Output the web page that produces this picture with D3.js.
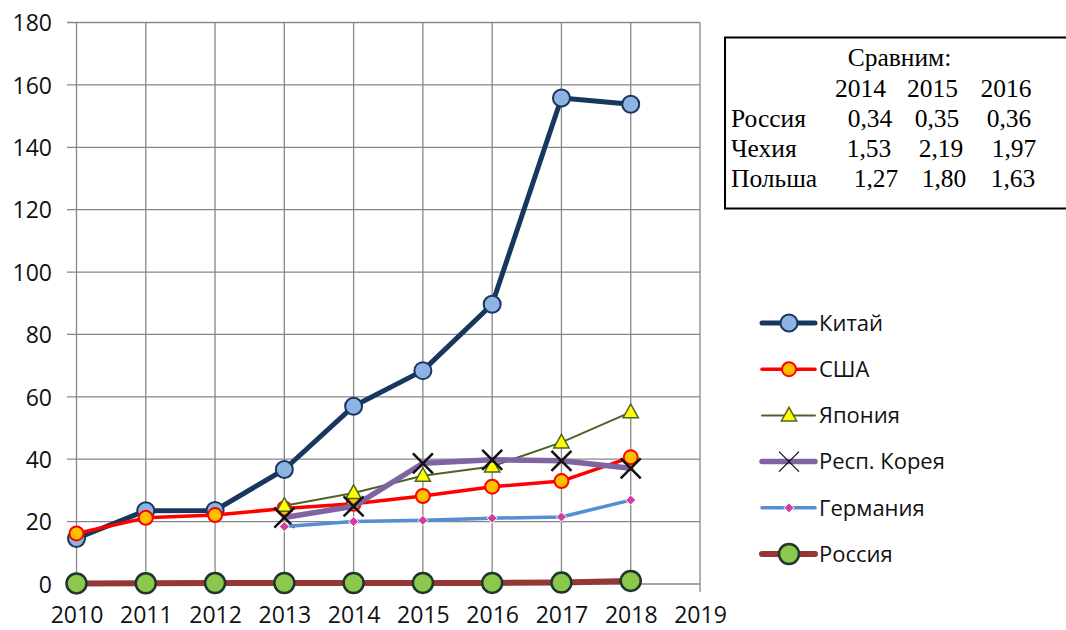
<!DOCTYPE html>
<html><head><meta charset="utf-8">
<script src="https://cdn.jsdelivr.net/npm/d3@7"></script>
<style>html,body{margin:0;padding:0;background:#fff;}svg{display:block;}</style>
</head><body>
<svg id="chart" width="1066" height="630"></svg>
<script>
const years = [2010, 2011, 2012, 2013, 2014, 2015, 2016, 2017, 2018];
const xTicks = [2010, 2011, 2012, 2013, 2014, 2015, 2016, 2017, 2018, 2019];
const yTicks = [0, 20, 40, 60, 80, 100, 120, 140, 160, 180];
const seriesNames = ["Китай", "США", "Япония", "Респ. Корея", "Германия", "Россия"];
const china   = [14.6, 23.5, 23.6, 36.7, 57.0, 68.4, 89.7, 155.8, 153.8];
const usa     = [16.2, 21.2, 22.1, 24.2, 25.7, 28.2, 31.2, 33.0, 40.6];
const japan   = [null, null, null, 25.1, 29.2, 34.7, 37.7, 45.4, 55.1];
const korea   = [null, null, null, 21.3, 24.9, 38.7, 39.8, 39.5, 37.1];
const germany = [null, null, null, 18.4, 20.0, 20.4, 21.1, 21.5, 26.9];
const russia  = [0.2, 0.22, 0.3, 0.32, 0.34, 0.35, 0.36, 0.45, 1.0];
const tableTitle = "Сравним:";
const tableYears = ["2014", "2015", "2016"];
const tableRows = ["Россия", "Чехия", "Польша"];
const tableValues = [["0,34", "0,35", "0,36"], ["1,53", "2,19", "1,97"], ["1,27", "1,80", "1,63"]];

const svg = d3.select("#chart");
const x = d3.scaleLinear().domain([2010, 2019]).range([76.5, 700]);
const y = d3.scaleLinear().domain([0, 180]).range([584, 22.5]);
const gridColor = "#878787";
const axisFont = "'Open Sans', sans-serif";

// grid
const g = svg.append("g");
g.selectAll(".hg").data(yTicks).enter().append("line")
  .attr("x1", 67).attr("x2", x(2019)).attr("y1", d => y(d)).attr("y2", d => y(d))
  .attr("stroke", gridColor).attr("stroke-width", 1.3);
g.selectAll(".vg").data(xTicks).enter().append("line")
  .attr("x1", d => x(d)).attr("x2", d => x(d)).attr("y1", y(180)).attr("y2", y(0) + 8)
  .attr("stroke", gridColor).attr("stroke-width", 1.3);

// axes labels
svg.append("g").attr("transform", `translate(52,0)`)
  .call(d3.axisLeft(y).tickValues(yTicks).tickSize(0).tickPadding(0))
  .call(a => a.select(".domain").remove())
  .selectAll("text").attr("font-family", axisFont).attr("font-size", 23).attr("fill", "#111")
  .attr("dy", "0.36em");
svg.append("g").attr("transform", `translate(0,606.5)`)
  .call(d3.axisBottom(x).tickValues(xTicks).tickFormat(d3.format("d")).tickSize(0).tickPadding(0))
  .call(a => a.select(".domain").remove())
  .selectAll("text").attr("font-family", axisFont).attr("font-size", 23).attr("fill", "#111");

// series config
const styles = [
  {data: china, line: "#17375E", w: 5, marker: "circle", r: 8.5, fill: "#8DB4E2", stroke: "#17375E", sw: 2},
  {data: usa, line: "#FF0000", w: 3.5, marker: "circle", r: 7, fill: "#FFC000", stroke: "#FF0000", sw: 2},
  {data: japan, line: "#4F6228", w: 2, marker: "triangle", r: 8, fill: "#FFFF00", stroke: "#4F6228", sw: 1.5},
  {data: korea, line: "#8064A2", w: 5.5, marker: "x", r: 10, fill: "none", stroke: "#111", sw: 2.5},
  {data: germany, line: "#558ED5", w: 3.5, marker: "diamond", r: 5, fill: "#D63C9E", stroke: "#fff", sw: 1},
  {data: russia, line: "#953735", w: 6, marker: "circle", r: 10, fill: "#8CC84B", stroke: "#1E3530", sw: 2.5}
];

function drawMarker(sel, s, cx, cy) {
  if (s.marker === "circle") {
    sel.append("circle").attr("cx", cx).attr("cy", cy).attr("r", s.r)
      .attr("fill", s.fill).attr("stroke", s.stroke).attr("stroke-width", s.sw);
  } else if (s.marker === "triangle") {
    const r = s.r;
    sel.append("path").attr("d", `M${cx},${cy - r}L${cx + r * 0.95},${cy + r * 0.7}L${cx - r * 0.95},${cy + r * 0.7}Z`)
      .attr("fill", s.fill).attr("stroke", s.stroke).attr("stroke-width", s.sw);
  } else if (s.marker === "x") {
    const r = s.r;
    sel.append("path").attr("d", `M${cx - r},${cy - r}L${cx + r},${cy + r}M${cx - r},${cy + r}L${cx + r},${cy - r}`)
      .attr("stroke", s.stroke).attr("stroke-width", s.sw).attr("fill", "none");
  } else if (s.marker === "diamond") {
    const r = s.r;
    sel.append("path").attr("d", `M${cx},${cy - r}L${cx + r},${cy}L${cx},${cy + r}L${cx - r},${cy}Z`)
      .attr("fill", s.fill).attr("stroke", s.stroke).attr("stroke-width", s.sw);
  }
}

const line = d3.line().defined(d => d.v !== null).x(d => x(d.year)).y(d => y(d.v));
styles.forEach(s => {
  const pts = years.map((yr, i) => ({year: yr, v: s.data[i]}));
  const sg = svg.append("g");
  sg.append("path").datum(pts).attr("d", line).attr("fill", "none")
    .attr("stroke", s.line).attr("stroke-width", s.w).attr("stroke-linejoin", "round").attr("stroke-linecap", "round");
  pts.filter(p => p.v !== null).forEach(p => drawMarker(sg, s, x(p.year), y(p.v)));
});

// legend
const lg = svg.append("g");
styles.forEach((s, i) => {
  const ly = 323 + i * 46.2;
  lg.append("line").attr("x1", 762).attr("x2", 815).attr("y1", ly).attr("y2", ly)
    .attr("stroke", s.line).attr("stroke-width", s.w).attr("stroke-linecap", "round");
  const ls = Object.assign({}, s);
  if (s.marker === "x") ls.sw = 1.3;
  drawMarker(lg, ls, 789, ly);
  lg.append("text").attr("x", 819).attr("y", ly).attr("dy", "0.35em")
    .attr("font-family", axisFont).attr("font-size", 22).attr("fill", "#111").text(seriesNames[i]);
});

// comparison table
const tg = svg.append("g").attr("font-family", "'Liberation Serif', 'Times New Roman', serif").attr("font-size", 25.5).attr("fill", "#000");
tg.append("rect").attr("x", 725).attr("y", 37.5).attr("width", 360).attr("height", 171)
  .attr("fill", "#fff").attr("stroke", "#000").attr("stroke-width", 2);
tg.append("text").attr("x", 899.5).attr("y", 66).attr("text-anchor", "middle").text(tableTitle);
const colX = [860.5, 932.5, 1006];
tableYears.forEach((t, j) => tg.append("text").attr("x", colX[j]).attr("y", 96.5).attr("text-anchor", "middle").text(t));
tableRows.forEach((r, i) => {
  const by = 126.5 + i * 30;
  tg.append("text").attr("x", 731).attr("y", by).text(r);
  tableValues[i].forEach((v, j) => {
    const cx = [[870, 937, 1009], [869, 941, 1014], [876, 944, 1013]][i][j];
    tg.append("text").attr("x", cx).attr("y", by).attr("text-anchor", "middle").text(v);
  });
});
</script>
</body></html>
